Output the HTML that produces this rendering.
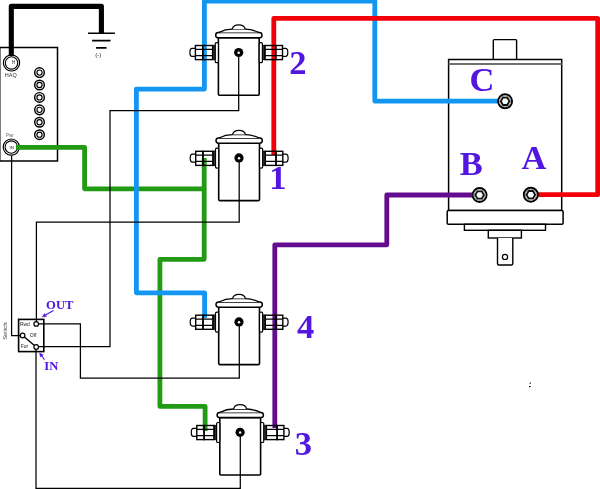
<!DOCTYPE html>
<html><head><meta charset="utf-8"><style>
html,body{margin:0;padding:0;background:#fff;width:600px;height:489px;overflow:hidden}
svg{display:block;will-change:transform}
.s{font-family:"Liberation Sans",sans-serif}
.f{font-family:"Liberation Serif",serif;font-weight:bold}
</style></head><body>
<svg width="600" height="489" viewBox="0 0 600 489">
<g class="s"><g transform="translate(238.7,52.5)">
<rect x="-20.3" y="-14.7" width="40.8" height="57.4" rx="1" fill="#fff" stroke="#000" stroke-width="1.6"/>
<rect x="-23.5" y="-9.8" width="3.2" height="20" rx="1.3" fill="#fff" stroke="#000" stroke-width="1.2"/>
<rect x="20.5" y="-9.8" width="3.2" height="20" rx="1.3" fill="#fff" stroke="#000" stroke-width="1.2"/>
<rect x="-23" y="-19.9" width="46.3" height="5.2" rx="2.6" fill="#fff" stroke="#000" stroke-width="1.5"/>
<path d="M-20,-19.9C-15,-22.5 -9,-23.3 -6.5,-23.3H6.5C9,-23.3 15,-22.5 20.3,-19.9" fill="#fff" stroke="#000" stroke-width="1.3"/>
<path d="M-6.4,-23.3C-5.5,-29 5.5,-29 6.4,-23.3" fill="#fff" stroke="#000" stroke-width="1.3"/>
</g>
<g transform="translate(239,157.9)">
<rect x="-20.3" y="-14.7" width="40.8" height="57.4" rx="1" fill="#fff" stroke="#000" stroke-width="1.6"/>
<rect x="-23.5" y="-9.8" width="3.2" height="20" rx="1.3" fill="#fff" stroke="#000" stroke-width="1.2"/>
<rect x="20.5" y="-9.8" width="3.2" height="20" rx="1.3" fill="#fff" stroke="#000" stroke-width="1.2"/>
<rect x="-23" y="-19.9" width="46.3" height="5.2" rx="2.6" fill="#fff" stroke="#000" stroke-width="1.5"/>
<path d="M-20,-19.9C-15,-22.5 -9,-23.3 -6.5,-23.3H6.5C9,-23.3 15,-22.5 20.3,-19.9" fill="#fff" stroke="#000" stroke-width="1.3"/>
<path d="M-6.4,-23.3C-5.5,-29 5.5,-29 6.4,-23.3" fill="#fff" stroke="#000" stroke-width="1.3"/>
</g>
<g transform="translate(239,321.9)">
<rect x="-20.3" y="-14.7" width="40.8" height="57.4" rx="1" fill="#fff" stroke="#000" stroke-width="1.6"/>
<rect x="-23.5" y="-9.8" width="3.2" height="20" rx="1.3" fill="#fff" stroke="#000" stroke-width="1.2"/>
<rect x="20.5" y="-9.8" width="3.2" height="20" rx="1.3" fill="#fff" stroke="#000" stroke-width="1.2"/>
<rect x="-23" y="-19.9" width="46.3" height="5.2" rx="2.6" fill="#fff" stroke="#000" stroke-width="1.5"/>
<path d="M-20,-19.9C-15,-22.5 -9,-23.3 -6.5,-23.3H6.5C9,-23.3 15,-22.5 20.3,-19.9" fill="#fff" stroke="#000" stroke-width="1.3"/>
<path d="M-6.4,-23.3C-5.5,-29 5.5,-29 6.4,-23.3" fill="#fff" stroke="#000" stroke-width="1.3"/>
</g>
<g transform="translate(240.1,432.3)">
<rect x="-20.3" y="-14.7" width="40.8" height="57.4" rx="1" fill="#fff" stroke="#000" stroke-width="1.6"/>
<rect x="-23.5" y="-9.8" width="3.2" height="20" rx="1.3" fill="#fff" stroke="#000" stroke-width="1.2"/>
<rect x="20.5" y="-9.8" width="3.2" height="20" rx="1.3" fill="#fff" stroke="#000" stroke-width="1.2"/>
<rect x="-23" y="-19.9" width="46.3" height="5.2" rx="2.6" fill="#fff" stroke="#000" stroke-width="1.5"/>
<path d="M-20,-19.9C-15,-22.5 -9,-23.3 -6.5,-23.3H6.5C9,-23.3 15,-22.5 20.3,-19.9" fill="#fff" stroke="#000" stroke-width="1.3"/>
<path d="M-6.4,-23.3C-5.5,-29 5.5,-29 6.4,-23.3" fill="#fff" stroke="#000" stroke-width="1.3"/>
</g>
<path d="M0.3,47.6V161.1" stroke="#666" stroke-width="1.1"/><path d="M0,47.6H57.5V161.1H0" fill="none" stroke="#000" stroke-width="1.5"/>
<circle cx="39.5" cy="72.60" r="4.8" fill="#fff" stroke="#000" stroke-width="1.45"/><circle cx="39.5" cy="72.60" r="2.6" fill="#fff" stroke="#000" stroke-width="1.15"/>
<circle cx="39.5" cy="85.02" r="4.8" fill="#fff" stroke="#000" stroke-width="1.45"/><circle cx="39.5" cy="85.02" r="2.6" fill="#fff" stroke="#000" stroke-width="1.15"/>
<circle cx="39.5" cy="97.44" r="4.8" fill="#fff" stroke="#000" stroke-width="1.45"/><circle cx="39.5" cy="97.44" r="2.6" fill="#fff" stroke="#000" stroke-width="1.15"/>
<circle cx="39.5" cy="109.86" r="4.8" fill="#fff" stroke="#000" stroke-width="1.45"/><circle cx="39.5" cy="109.86" r="2.6" fill="#fff" stroke="#000" stroke-width="1.15"/>
<circle cx="39.5" cy="122.28" r="4.8" fill="#fff" stroke="#000" stroke-width="1.45"/><circle cx="39.5" cy="122.28" r="2.6" fill="#fff" stroke="#000" stroke-width="1.15"/>
<circle cx="39.5" cy="134.70" r="4.8" fill="#fff" stroke="#000" stroke-width="1.45"/><circle cx="39.5" cy="134.70" r="2.6" fill="#fff" stroke="#000" stroke-width="1.15"/>
<circle cx="11.5" cy="62.9" r="8.1" fill="#fff" stroke="#000" stroke-width="1.2"/><circle cx="11.5" cy="62.9" r="6.2" fill="#fff" stroke="#000" stroke-width="1.1"/>
<circle cx="11.3" cy="147.1" r="8.1" fill="#fff" stroke="#000" stroke-width="1.2"/><circle cx="11.3" cy="147.1" r="6.2" fill="#fff" stroke="#000" stroke-width="1.1"/>
<text x="11.9" y="63.9" font-size="4.6" fill="#222">H</text>
<text x="4.8" y="77.4" font-size="5.5" fill="#333">HAQ</text>
<text x="6" y="137.1" font-size="4.5" fill="#666">Pwr</text>
<text x="9.6" y="149" font-size="4.3" fill="#222">IN</text>
<g stroke="#000" stroke-width="1.6"><path d="M88,33.2H114.9M92.1,40.6H110.5M96.1,47.9H106.5"/></g>
<text x="95.2" y="57.2" font-size="6" fill="#222">(-)</text>
<rect x="18.6" y="319.4" width="25.2" height="32.2" fill="#fff" stroke="#000" stroke-width="1.6"/>
<path d="M493.3,59.5V40.5Q493.3,39.6 494.2,39.6H515.7Q516.6,39.6 516.6,40.5V59.5" fill="#fff" stroke="#000" stroke-width="1.4"/>
<rect x="448.6" y="59.5" width="113.1" height="151" fill="#fff" stroke="#000" stroke-width="1.5"/>
<path d="M448.6,64H561.7" stroke="#707070" stroke-width="1.8"/>
<rect x="447.2" y="210.5" width="115.9" height="13.8" rx="1.2" fill="#fff" stroke="#000" stroke-width="1.5"/>
<rect x="464.4" y="224.3" width="81.1" height="6" fill="#fff" stroke="#000" stroke-width="1.4"/>
<rect x="488.3" y="230.3" width="33.1" height="7.7" fill="#fff" stroke="#000" stroke-width="1.4"/>
<path d="M497.5,238V263.5Q497.5,265 499,265H511.3Q512.8,265 512.8,263.5V238" fill="#fff" stroke="#000" stroke-width="1.4"/>
<circle cx="505" cy="256.9" r="2.6" fill="#fff" stroke="#000" stroke-width="1.2"/>
<path d="M16,147.4H84.6V188.8H204.2" fill="none" stroke="#229a14" stroke-width="4.8" stroke-linejoin="round"/>
<path d="M204.2,158V259.3H159.9V406.4H205.1V431" fill="none" stroke="#229a14" stroke-width="4.8" stroke-linejoin="round"/>
<path d="M472,195H386.8V244.8H274.8V428" fill="none" stroke="#640c90" stroke-width="4.8" stroke-linejoin="round"/>
<path d="M498.5,101.2H374.8V1.2H204.4V89.1H136.4V292.8H204.6V318" fill="none" stroke="#1396f2" stroke-width="4.8" stroke-linejoin="round"/>
<path d="M273.8,155V18.3H597.7V194.6H538" fill="none" stroke="#f00008" stroke-width="4.8" stroke-linejoin="round"/>
<path d="M11.3,56V6.4H101.4V33.4" fill="none" stroke="#000" stroke-width="5.1" stroke-linejoin="round"/>
<g fill="none" stroke="#000" stroke-width="1.25"><path d="M238.7,57V110.5H110V346.7H36.2"/><path d="M239.2,162V222H36.4V323.8"/><path d="M239.3,326V378.1H80.4V323.8H36.2"/><path d="M240.3,436V488.4H36V347"/><path d="M11.6,155.5V335.5H22.6"/></g>
<path d="M22.6,335.5L36.2,347" stroke="#000" stroke-width="1.4"/>
<circle cx="36.2" cy="323.9" r="2.3" fill="#fff" stroke="#000" stroke-width="1.2"/>
<circle cx="22.6" cy="335.5" r="2.3" fill="#fff" stroke="#000" stroke-width="1.2"/>
<circle cx="36.2" cy="347" r="2.3" fill="#fff" stroke="#000" stroke-width="1.2"/>
<text x="19.9" y="325.6" font-size="5" fill="#222" textLength="10" lengthAdjust="spacingAndGlyphs">Rwd</text>
<text x="29.8" y="337.3" font-size="5" fill="#222">Off</text>
<text x="20.7" y="348.2" font-size="5" fill="#222">For</text>
<text transform="translate(7.3,339.8) rotate(-90)" font-size="6" fill="#444" textLength="17.3" lengthAdjust="spacingAndGlyphs">Switch</text>
<circle cx="238.7" cy="52.5" r="4.6" fill="#000"/><circle cx="238.7" cy="52.8" r="1.25" fill="#fff"/>
<circle cx="239" cy="157.9" r="4.6" fill="#000"/><circle cx="239" cy="158.20000000000002" r="1.25" fill="#fff"/>
<circle cx="239" cy="321.9" r="4.6" fill="#000"/><circle cx="239" cy="322.2" r="1.25" fill="#fff"/>
<circle cx="240.1" cy="432.3" r="4.6" fill="#000"/><circle cx="240.1" cy="432.6" r="1.25" fill="#fff"/>
<g transform="translate(238.7,52.5)" fill="none" stroke="#000">
<rect x="-26.1" y="-7.2" width="2.5" height="14.4" fill="#333" stroke-width="0.8"/>
<rect x="23.8" y="-7.2" width="2.5" height="14.4" fill="#333" stroke-width="0.8"/>
<rect x="-36" y="-7.0" width="9.90" height="14.1" stroke-width="1.4"/>
<path d="M-36,-3.1H-26.1M-36,3.1H-26.1" stroke-width="1.2"/>
<rect x="-43.3" y="-7.0" width="7.30" height="14.1" stroke-width="1.4"/>
<path d="M-43.3,-3.1H-36M-43.3,3.1H-36" stroke-width="1.2"/>
<rect x="26.3" y="-7.0" width="10.70" height="14.1" stroke-width="1.4"/>
<path d="M26.3,-3.1H37M26.3,3.1H37" stroke-width="1.2"/>
<rect x="37" y="-7.0" width="6.80" height="14.1" stroke-width="1.4"/>
<path d="M37,-3.1H43.8M37,3.1H43.8" stroke-width="1.2"/>
<path d="M-43.3,-4.1H-46.6A2.2,4 0 0 0 -46.6,3.9H-43.3" stroke-width="1.2"/>
<path d="M43.8,-4.1H46.8A2.3,4 0 0 1 46.8,3.9H43.8" stroke-width="1.2"/>
</g>
<g transform="translate(239,158.3)" fill="none" stroke="#000">
<rect x="-26.1" y="-7.2" width="2.5" height="14.4" fill="#333" stroke-width="0.8"/>
<rect x="23.8" y="-7.2" width="2.5" height="14.4" fill="#333" stroke-width="0.8"/>
<rect x="-36" y="-7.0" width="9.90" height="14.1" stroke-width="1.4"/>
<path d="M-36,-3.1H-26.1M-36,3.1H-26.1" stroke-width="1.2"/>
<rect x="-43.3" y="-7.0" width="7.30" height="14.1" stroke-width="1.4"/>
<path d="M-43.3,-3.1H-36M-43.3,3.1H-36" stroke-width="1.2"/>
<rect x="26.3" y="-7.0" width="10.70" height="14.1" stroke-width="1.4"/>
<path d="M26.3,-3.1H37M26.3,3.1H37" stroke-width="1.2"/>
<rect x="37" y="-7.0" width="6.80" height="14.1" stroke-width="1.4"/>
<path d="M37,-3.1H43.8M37,3.1H43.8" stroke-width="1.2"/>
<path d="M-43.3,-4.1H-46.6A2.2,4 0 0 0 -46.6,3.9H-43.3" stroke-width="1.2"/>
<path d="M43.8,-4.1H46.8A2.3,4 0 0 1 46.8,3.9H43.8" stroke-width="1.2"/>
</g>
<g transform="translate(239,322.2)" fill="none" stroke="#000">
<rect x="-26.1" y="-7.2" width="2.5" height="14.4" fill="#333" stroke-width="0.8"/>
<rect x="23.8" y="-7.2" width="2.5" height="14.4" fill="#333" stroke-width="0.8"/>
<rect x="-36" y="-7.0" width="9.90" height="14.1" stroke-width="1.4"/>
<path d="M-36,-3.1H-26.1M-36,3.1H-26.1" stroke-width="1.2"/>
<rect x="-43.3" y="-7.0" width="7.30" height="14.1" stroke-width="1.4"/>
<path d="M-43.3,-3.1H-36M-43.3,3.1H-36" stroke-width="1.2"/>
<rect x="26.3" y="-7.0" width="10.70" height="14.1" stroke-width="1.4"/>
<path d="M26.3,-3.1H37M26.3,3.1H37" stroke-width="1.2"/>
<rect x="37" y="-7.0" width="6.80" height="14.1" stroke-width="1.4"/>
<path d="M37,-3.1H43.8M37,3.1H43.8" stroke-width="1.2"/>
<path d="M-43.3,-4.1H-46.6A2.2,4 0 0 0 -46.6,3.9H-43.3" stroke-width="1.2"/>
<path d="M43.8,-4.1H46.8A2.3,4 0 0 1 46.8,3.9H43.8" stroke-width="1.2"/>
</g>
<g transform="translate(240.1,432.5)" fill="none" stroke="#000">
<rect x="-26.1" y="-7.2" width="2.5" height="14.4" fill="#333" stroke-width="0.8"/>
<rect x="23.8" y="-7.2" width="2.5" height="14.4" fill="#333" stroke-width="0.8"/>
<rect x="-36" y="-7.0" width="9.90" height="14.1" stroke-width="1.4"/>
<path d="M-36,-3.1H-26.1M-36,3.1H-26.1" stroke-width="1.2"/>
<rect x="-43.3" y="-7.0" width="7.30" height="14.1" stroke-width="1.4"/>
<path d="M-43.3,-3.1H-36M-43.3,3.1H-36" stroke-width="1.2"/>
<rect x="26.3" y="-7.0" width="10.70" height="14.1" stroke-width="1.4"/>
<path d="M26.3,-3.1H37M26.3,3.1H37" stroke-width="1.2"/>
<rect x="37" y="-7.0" width="6.80" height="14.1" stroke-width="1.4"/>
<path d="M37,-3.1H43.8M37,3.1H43.8" stroke-width="1.2"/>
<path d="M-43.3,-4.1H-46.6A2.2,4 0 0 0 -46.6,3.9H-43.3" stroke-width="1.2"/>
<path d="M43.8,-4.1H46.8A2.3,4 0 0 1 46.8,3.9H43.8" stroke-width="1.2"/>
</g>
<g transform="translate(505.1,101.3)"><circle r="7" fill="#fff" stroke="#000" stroke-width="1.9"/><circle r="5.5" fill="none" stroke="#999" stroke-width="1"/><path d="M4.3,0L2.15,3.72L-2.15,3.72L-4.3,0L-2.15,-3.72L2.15,-3.72Z" fill="#fff" stroke="#111" stroke-width="1.8"/><circle r="2.3" fill="#f4fbff"/></g>
<g transform="translate(479.6,195)"><circle r="7" fill="#fff" stroke="#000" stroke-width="1.9"/><circle r="5.5" fill="none" stroke="#999" stroke-width="1"/><path d="M4.3,0L2.15,3.72L-2.15,3.72L-4.3,0L-2.15,-3.72L2.15,-3.72Z" fill="#fff" stroke="#111" stroke-width="1.8"/><circle r="2.3" fill="#f4fbff"/></g>
<g transform="translate(530.8,194.7)"><circle r="7" fill="#fff" stroke="#000" stroke-width="1.9"/><circle r="5.5" fill="none" stroke="#999" stroke-width="1"/><path d="M4.3,0L2.15,3.72L-2.15,3.72L-4.3,0L-2.15,-3.72L2.15,-3.72Z" fill="#fff" stroke="#111" stroke-width="1.8"/><circle r="2.3" fill="#f4fbff"/></g>
<g class="f" fill="#5216e0"><text x="469.5" y="90.6" font-size="34.5">C</text><text x="459.8" y="174.8" font-size="34.5">B</text><text x="521.6" y="169" font-size="34.5">A</text><text x="289.2" y="74.2" font-size="34.5">2</text><text x="269.3" y="189.4" font-size="34.5">1</text><text x="296.9" y="338.2" font-size="34.5">4</text><text x="294.8" y="454.5" font-size="34.5">3</text><text x="46.1" y="308.9" font-size="12.6">OUT</text><text x="44.3" y="369.7" font-size="12.6">IN</text></g>
<g stroke="#5216e0" stroke-width="1.1" fill="#5216e0"><path d="M53.5,310.4L45.52,315.00"/><path d="M42.4,316.8L44.67,313.53L46.37,316.47Z" stroke-width="0.6"/><path d="M44.5,359.8L41.78,355.94"/><path d="M39.7,353L43.16,354.96L40.39,356.92Z" stroke-width="0.6"/></g>
<rect x="529.6" y="382.6" width="1.2" height="1.2" fill="#000"/><rect x="529" y="386" width="1.6" height="1.2" fill="#000"/></g>
</svg>
</body></html>
